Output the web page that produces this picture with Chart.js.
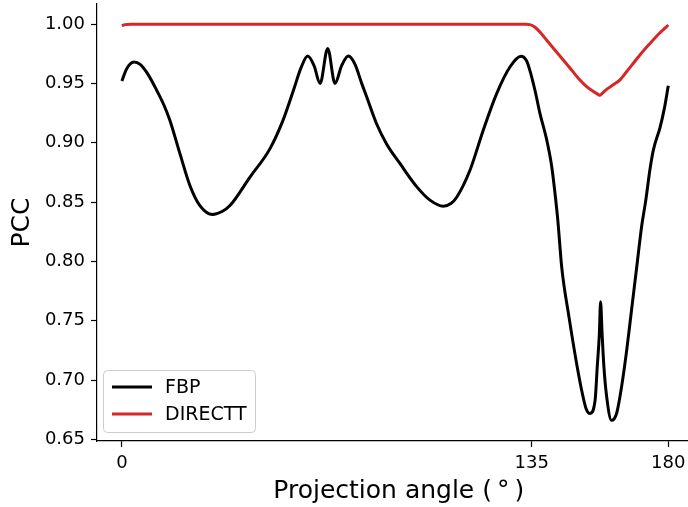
<!DOCTYPE html>
<html>
<head>
<meta charset="utf-8">
<title>PCC vs projection angle</title>
<script src="https://cdn.jsdelivr.net/npm/chart.js@4.4.1/dist/chart.umd.min.js"></script>
<style>
  html, body { margin: 0; padding: 0; background: #ffffff; }
  #wrap { width: 688px; height: 507px; }
</style>
</head>
<body>
<div id="wrap"><canvas id="chart" width="688" height="507"></canvas></div>
<script>
/* ------------------------------------------------
   Data (angle in degrees)
   ------------------------------------------------ */
const fbpAngles = [
  0, 1.5, 4, 6, 8.5, 11.5, 13.8, 15.8, 19.1, 22.4, 25.7, 29.9, 33, 35.6,
  42.2, 48.8, 53.1, 56.5, 59, 61.2, 63.3, 65.3, 67.8, 70.2, 72.4, 74.6,
  76.8, 79, 80.6, 83.9, 87.2, 91.6, 97.1, 101.5, 105.9, 108.5, 110.3,
  114.7, 119.1, 123.5, 127.9, 131.5, 133.3, 134.4, 136.1, 137.7, 139.9,
  141.6, 142.7, 143.6, 144.9, 147.3, 149.8, 151.5, 152.9, 154.2, 155.9,
  156.6, 157.3, 157.7, 158.2, 158.8, 159.7, 161.3, 163, 164.6, 166.3,
  167.9, 169.6, 171.2, 172.6, 174, 175.1, 177.3, 178.8, 180
];
const fbpValues = [
  0.952, 0.962, 0.968, 0.966, 0.958, 0.944, 0.932, 0.919, 0.891, 0.864, 0.847, 0.8395, 0.842, 0.847,
  0.871, 0.895, 0.919, 0.944, 0.963, 0.973, 0.965, 0.950, 0.9795, 0.950, 0.965, 0.973,
  0.966, 0.950, 0.939, 0.916, 0.899, 0.8825, 0.863, 0.8516, 0.8465, 0.849, 0.854,
  0.877, 0.911, 0.9416, 0.964, 0.9728, 0.969, 0.961, 0.944, 0.925, 0.903,
  0.880, 0.857, 0.835, 0.795, 0.753, 0.714, 0.691, 0.676, 0.6717, 0.683,
  0.711, 0.739, 0.766, 0.739, 0.711, 0.686, 0.666, 0.672, 0.694, 0.725,
  0.759, 0.795, 0.829, 0.8516, 0.878, 0.894, 0.913, 0.930, 0.948
];

const directtAngles = [
  0, 1, 3, 20, 60, 100, 133, 134.4, 136, 138, 139.9, 142.5, 145.4, 147.6,
  150.9, 153, 155.3, 157, 157.5, 158, 159.7, 162, 164.1, 166, 168.5, 171,
  174, 177, 180
];
const directtValues = [
  0.9985, 0.9995, 0.9998, 0.9998, 0.9998, 0.9998, 0.9998, 0.9995, 0.9975, 0.9925, 0.9865, 0.9785, 0.9697, 0.963,
  0.9528, 0.9475, 0.9432, 0.9405, 0.940, 0.941, 0.945, 0.949, 0.953, 0.959, 0.967, 0.975,
  0.9837, 0.992, 0.9992
];

const xTicks = [0, 135, 180];
const yTicks = [0.65, 0.70, 0.75, 0.80, 0.85, 0.90, 0.95, 1.00];

const FONT = 'DejaVu Sans';

// Legend drawn inside the plot, lower left (matplotlib style box)
const cornerLegend = {
  id: 'cornerLegend',
  afterDatasetsDraw(chart) {
    const { ctx, chartArea } = chart;
    const x0 = chartArea.left + 6;
    const y0 = chartArea.bottom - 71;
    const w = 152, h = 62;

    ctx.save();
    ctx.beginPath();
    ctx.roundRect(x0 + 0.5, y0 + 0.5, w, h, 4);
    ctx.fillStyle = 'rgba(255,255,255,0.8)';
    ctx.fill();
    ctx.strokeStyle = '#cccccc';
    ctx.lineWidth = 1;
    ctx.stroke();

    chart.data.datasets.forEach((ds, i) => {
      const ly = y0 + 17 + i * 27;
      ctx.beginPath();
      ctx.moveTo(x0 + 9, ly);
      ctx.lineTo(x0 + 49, ly);
      ctx.strokeStyle = ds.borderColor;
      ctx.lineWidth = 3;
      ctx.stroke();

      ctx.fillStyle = '#000000';
      ctx.font = `19px '${FONT}'`;
      ctx.textAlign = 'left';
      ctx.textBaseline = 'middle';
      ctx.fillText(ds.label, x0 + 62, ly + 1);
    });
    ctx.restore();
  },
};

const toPoints = (xs, ys) => xs.map((x, i) => ({ x, y: ys[i] }));

// Fixed axis box sizes, no extra room for edge labels
const fitX = s => { s.height = 66; s.paddingLeft = 0; s.paddingRight = 0; };
const fitY = s => { s.width = 97; s.paddingTop = 0; s.paddingBottom = 0; };

const axisCommon = {
  type: 'linear',
  grid: {
    display:         true,
    drawOnChartArea: false,
    drawTicks:       true,
    tickLength:      6,
    tickColor:       '#000000',
    tickWidth:       1.2,
  },
  border: { display: true, color: '#000000', width: 1.2 },
};

new Chart(document.getElementById('chart'), {
  type: 'line',
  data: {
    datasets: [
      {
        label:           'FBP',
        data:            toPoints(fbpAngles, fbpValues),
        borderColor:     '#000000',
        borderWidth:     3,
        pointRadius:     0,
        cubicInterpolationMode: 'monotone',
      },
      {
        label:           'DIRECTT',
        data:            toPoints(directtAngles, directtValues),
        borderColor:     '#d62728',
        borderWidth:     3,
        pointRadius:     0,
        cubicInterpolationMode: 'monotone',
      },
    ],
  },
  options: {
    responsive:       false,
    animation:        false,
    devicePixelRatio: 1,
    layout: { padding: { top: 4, right: 0, bottom: 0, left: 0 } },
    plugins: {
      legend:  { display: false },
      tooltip: { enabled: false },
    },
    scales: {
      x: {
        ...axisCommon,
        position: 'bottom',
        min: -8.2,
        max: 186.5,
        afterBuildTicks: s => { s.ticks = xTicks.map(v => ({ value: v })); },
        afterFit: fitX,
        ticks: {
          color: '#000000',
          font: { family: FONT, size: 18 },
          padding: 6,
          maxRotation: 0,
          autoSkip: false,
          callback: v => String(v),
        },
        title: {
          display: true,
          text: '\u2002Projection angle (\u2009\u00b0\u2009)',
          color: '#000000',
          font: { family: FONT, size: 25, lineHeight: 1.2 },
          padding: { top: 0, bottom: 1 },
        },
      },
      y: {
        ...axisCommon,
        position: 'left',
        min: 0.6486,
        max: 1.0169,
        afterBuildTicks: s => { s.ticks = yTicks.map(v => ({ value: v })); },
        afterFit: fitY,
        ticks: {
          color: '#000000',
          font: { family: FONT, size: 18 },
          padding: 6,
          autoSkip: false,
          callback: v => Number(v).toFixed(2),
        },
        title: {
          display: true,
          text: 'PCC',
          color: '#000000',
          font: { family: FONT, size: 25, lineHeight: 1.2 },
          padding: { top: 7, bottom: 0 },
        },
      },
    },
  },
  plugins: [cornerLegend],
});
</script>
</body>
</html>
